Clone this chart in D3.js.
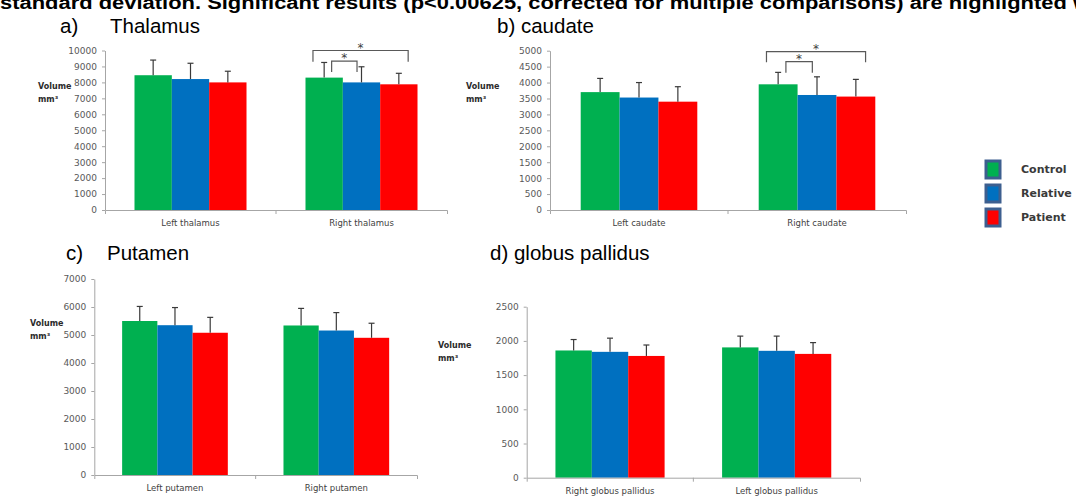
<!DOCTYPE html>
<html>
<head>
<meta charset="utf-8">
<script src="https://cdn.jsdelivr.net/npm/d3@7"></script>
<style>
  body { margin: 0; background: #fff; }
  svg { display: block; }
  .tick text { font-family: "DejaVu Sans", sans-serif; }
</style>
</head>
<body>
<div id="chart"></div>
<script>
// groups shown in every panel
const groups = ["Control", "Relative", "Patient"];
const groupColors = ["#00b050", "#0070c0", "#ff0000"];

// a) thalamus
const thalamusCats = ["Left thalamus", "Right thalamus"];
const thalamusMeans = [[8450, 8210, 8000], [8300, 8000, 7880]];
const thalamusSD = [[950, 990, 700], [950, 980, 690]];
const thalamusTicks = [0, 1000, 2000, 3000, 4000, 5000, 6000, 7000, 8000, 9000, 10000];
const thalamusSig = [
  { cat: 1, from: 0, to: 2, top: 10000, drop: 9300 },
  { cat: 1, from: 0, to: 1, top: 9340, drop: 8650 }
];

// b) caudate
const caudateCats = ["Left caudate", "Right caudate"];
const caudateMeans = [[3700, 3530, 3400], [3945, 3610, 3560]];
const caudateSD = [[430, 470, 470], [375, 570, 540]];
const caudateTicks = [0, 500, 1000, 1500, 2000, 2500, 3000, 3500, 4000, 4500, 5000];
const caudateSig = [
  { cat: 1, from: 0, to: 2, top: 4970, drop: 4640 },
  { cat: 1, from: 0, to: 1, top: 4655, drop: 4310 }
];

// c) putamen
const putamenCats = ["Left putamen", "Right putamen"];
const putamenMeans = [[5500, 5350, 5080], [5340, 5160, 4900]];
const putamenSD = [[520, 630, 550], [610, 640, 520]];
const putamenTicks = [0, 1000, 2000, 3000, 4000, 5000, 6000, 7000];

// d) globus pallidus
const pallidusCats = ["Right globus pallidus", "Left globus pallidus"];
const pallidusMeans = [[1860, 1840, 1780], [1905, 1855, 1810]];
const pallidusSD = [[160, 200, 160], [165, 215, 165]];
const pallidusTicks = [0, 500, 1000, 1500, 2000, 2500];

const W = 1076, H = 499;
const svg = d3.select("#chart").append("svg").attr("width", W).attr("height", H);

// caption line, cut off by the top of the picture (as in the source figure)
svg.append("text")
  .attr("x", 0).attr("y", 9)
  .attr("textLength", 1090).attr("lengthAdjust", "spacingAndGlyphs")
  .style("font-family", "Liberation Sans, Arial, sans-serif")
  .style("font-weight", "bold").style("font-size", "18px")
  .text("standard deviation. Significant results (p<0.00625, corrected for multiple comparisons) are highlighted w");

// panel titles
function title(x, y, txt) {
  svg.append("text").attr("x", x).attr("y", y)
    .style("font-family", "Liberation Sans, Arial, sans-serif")
    .style("font-size", "20.5px").style("fill", "#000")
    .text(txt);
}
title(60, 33, "a)");
title(110, 33, "Thalamus");
title(497, 33, "b) caudate");
title(66, 260, "c)");
title(107, 260, "Putamen");
title(490, 260, "d) globus pallidus");

function drawPanel(p) {
  const y = d3.scaleLinear().domain([0, p.max]).range([p.y0, p.yTop]);
  const x = d3.scaleBand().domain(p.cats).range([p.x0, p.x1])
    .paddingInner(0.345).paddingOuter(0.1725);
  const xg = d3.scaleBand().domain(d3.range(groups.length)).range([0, x.bandwidth()]);
  const step = x.step();
  const g = svg.append("g");

  // y axis
  const ya = g.append("g").attr("transform", `translate(${p.x0},0)`)
    .call(d3.axisLeft(y).tickValues(p.ticks).tickSize(3).tickSizeOuter(0).tickPadding(5)
      .tickFormat(d3.format("d")));
  ya.select(".domain").attr("stroke", "#a6a6a6");
  ya.selectAll(".tick line").attr("stroke", "#a6a6a6");
  ya.selectAll(".tick text").style("font-size", "9px").style("fill", "#595959");

  // bars
  const rows = [];
  p.cats.forEach((c, i) => groups.forEach((s, j) => rows.push({ c, j, v: p.means[i][j], sd: p.sd[i][j] })));

  g.selectAll("rect.bar").data(rows).join("rect")
    .attr("class", "bar")
    .attr("x", d => x(d.c) + xg(d.j))
    .attr("y", d => y(d.v))
    .attr("width", xg.bandwidth())
    .attr("height", d => y(0) - y(d.v))
    .attr("fill", d => groupColors[d.j]);

  // error bars (upper only)
  const cap = 3;
  const eb = g.selectAll("g.err").data(rows).join("g").attr("class", "err")
    .attr("stroke", "#3a3a3a").attr("stroke-width", 1.2);
  eb.append("line")
    .attr("x1", d => x(d.c) + xg(d.j) + xg.bandwidth() / 2)
    .attr("x2", d => x(d.c) + xg(d.j) + xg.bandwidth() / 2)
    .attr("y1", d => y(d.v)).attr("y2", d => y(d.v + d.sd));
  eb.append("line")
    .attr("x1", d => x(d.c) + xg(d.j) + xg.bandwidth() / 2 - cap)
    .attr("x2", d => x(d.c) + xg(d.j) + xg.bandwidth() / 2 + cap)
    .attr("y1", d => y(d.v + d.sd)).attr("y2", d => y(d.v + d.sd));

  // x axis
  const xa = g.append("g").attr("transform", `translate(0,${p.y0})`)
    .call(d3.axisBottom(x).tickSizeInner(0).tickSizeOuter(4).tickPadding(10));
  xa.select(".domain").attr("stroke", "#a6a6a6");
  xa.selectAll(".tick text").style("font-size", "8.5px").style("fill", "#3f3f3f");
  xa.append("line").attr("x1", p.x0 + step).attr("x2", p.x0 + step)
    .attr("y1", 0).attr("y2", 4).attr("stroke", "#a6a6a6");

  // y axis title
  const lab = g.append("text").attr("x", p.labX).attr("y", p.labY)
    .style("font-family", "DejaVu Sans, sans-serif").style("font-weight", "bold")
    .style("font-size", "8px").style("fill", "#2a2a2a");
  lab.append("tspan").attr("x", p.labX).text("Volume");
  lab.append("tspan").attr("x", p.labX).attr("dy", 13).text("mm³");

  // significance brackets
  (p.sig || []).forEach(s => {
    const bw = xg.bandwidth();
    const cx0 = x(p.cats[s.cat]) + xg(s.from) + bw / 2;
    const cx1 = x(p.cats[s.cat]) + xg(s.to) + bw / 2;
    const xl = s.to - s.from > 1 ? cx0 - 0.3 * bw : cx0 + 0.2 * bw;
    const xr = s.to - s.from > 1 ? cx1 + 0.25 * bw : cx1 - 0.12 * bw;
    g.append("path")
      .attr("d", `M${xl},${y(s.drop)}V${y(s.top)}H${xr}V${y(s.drop)}`)
      .attr("fill", "none").attr("stroke", "#595959").attr("stroke-width", 1.2);
    g.append("text").attr("x", (xl + xr) / 2).attr("y", y(s.top) + 1)
      .attr("text-anchor", "middle")
      .style("font-family", "DejaVu Sans, sans-serif").style("font-size", "12px")
      .style("fill", "#404040").text("*");
  });
}

drawPanel({ cats: thalamusCats, means: thalamusMeans, sd: thalamusSD, ticks: thalamusTicks, max: 10000,
  sig: thalamusSig, x0: 105, x1: 447, y0: 210, yTop: 50.5, labX: 38, labY: 89 });
drawPanel({ cats: caudateCats, means: caudateMeans, sd: caudateSD, ticks: caudateTicks, max: 5000,
  sig: caudateSig, x0: 550, x1: 906, y0: 210, yTop: 50.7, labX: 466, labY: 89 });
drawPanel({ cats: putamenCats, means: putamenMeans, sd: putamenSD, ticks: putamenTicks, max: 7000,
  x0: 94.3, x1: 417, y0: 475, yTop: 279, labX: 30, labY: 326 });
drawPanel({ cats: pallidusCats, means: pallidusMeans, sd: pallidusSD, ticks: pallidusTicks, max: 2500,
  x0: 526.7, x1: 860, y0: 477.7, yTop: 306.7, labX: 438, labY: 348 });

// legend
const legend = svg.append("g").attr("transform", "translate(986,161)");
groups.forEach((s, i) => {
  const row = legend.append("g").attr("transform", `translate(0,${i * 24})`);
  row.append("rect").attr("x", 0).attr("y", 0).attr("width", 14).attr("height", 17)
    .attr("fill", groupColors[i]).attr("stroke", "#3d5f8f").attr("stroke-width", 3);
  row.append("text").attr("x", 35).attr("y", 12)
    .style("font-family", "DejaVu Sans, sans-serif").style("font-weight", "bold")
    .style("font-size", "11px").style("fill", "#3a3a3a").text(s);
});
</script>
</body>
</html>
